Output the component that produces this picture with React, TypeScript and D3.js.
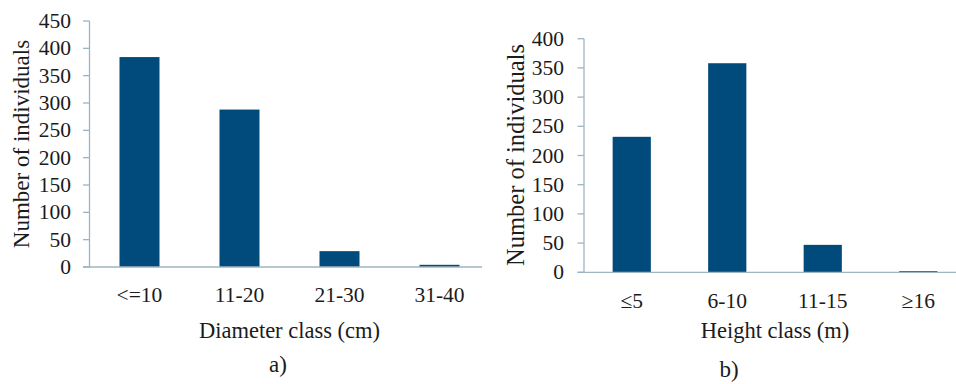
import React from "react";
import * as d3 from "d3";

// Diameter-class distribution (panel a)
const diameterClasses = ["<=10", "11-20", "21-30", "31-40"];
const diameterCounts = [384, 288, 29, 4];
const diameterTicks = [0, 50, 100, 150, 200, 250, 300, 350, 400, 450];

// Height-class distribution (panel b)
const heightClasses = ["≤5", "6-10", "11-15", "≥16"];
const heightCounts = [232, 358, 47, 2];
const heightTicks = [0, 50, 100, 150, 200, 250, 300, 350, 400];

const BAR = "#004b7b";
const AXIS = "#9fb4c1";
const TEXT = "#1b1b1b";
const FONT = '"Liberation Serif", Tinos, "Times New Roman", "DejaVu Serif", serif';

type PanelProps = {
  categories: string[];
  values: number[];
  ticks: number[];
  left: number;
  right: number;
  axisEnd: number;
  bottom: number;
  top: number;
  tickLabelX: number;
  catLabelY: number;
  xTitle: string;
  xTitleY: number;
  yTitleX: number;
  yTitleY: number;
  yTitleSize: number;
  tag: string;
  tagX: number;
  tagY: number;
};

function Panel(p: PanelProps) {
  const x = d3
    .scaleBand<string>()
    .domain(p.categories)
    .range([p.left, p.right])
    .paddingInner(0.6)
    .paddingOuter(0.3);
  const yMax = p.ticks[p.ticks.length - 1];
  const y = d3.scaleLinear().domain([0, yMax]).range([p.bottom, p.top]);
  const mid = (p.left + p.right) / 2;
  const ts = (size: number): React.CSSProperties => ({ fontFamily: FONT, fontSize: size, fill: TEXT });

  return (
    <g>
      {p.values.map((v, i) => (
        <rect
          key={p.categories[i]}
          x={x(p.categories[i])}
          y={y(v)}
          width={x.bandwidth()}
          height={y(0) - y(v)}
          fill={BAR}
        />
      ))}
      <line x1={p.left} x2={p.left} y1={y(yMax)} y2={y(0)} stroke={AXIS} strokeWidth={1.3} />
      <line x1={p.left - 6.5} x2={p.axisEnd} y1={y(0)} y2={y(0)} stroke={AXIS} strokeWidth={1.3} />
      {p.ticks.map((t) => (
        <g key={t}>
          <line x1={p.left - 6.5} x2={p.left} y1={y(t)} y2={y(t)} stroke={AXIS} strokeWidth={1.3} />
          <text x={p.tickLabelX} y={y(t) + 7} textAnchor="end" style={ts(21.5)}>
            {t}
          </text>
        </g>
      ))}
      {p.categories.map((c) => (
        <text key={c} x={(x(c) as number) + x.bandwidth() / 2} y={p.catLabelY} textAnchor="middle" style={ts(21.5)}>
          {c}
        </text>
      ))}
      <text x={mid} y={p.xTitleY} textAnchor="middle" style={ts(22.5)}>
        {p.xTitle}
      </text>
      <text
        transform={`translate(${p.yTitleX},${p.yTitleY}) rotate(-90)`}
        textAnchor="middle"
        style={ts(p.yTitleSize)}
      >
        Number of individuals
      </text>
      <text x={p.tagX} y={p.tagY} textAnchor="middle" style={ts(23)}>
        {p.tag}
      </text>
    </g>
  );
}

export default function App() {
  return (
    <div style={{ position: "absolute", left: 0, top: 0 }}>
      <svg width={956} height={384} viewBox="0 0 956 384" style={{ display: "block", background: "#fff" }}>
        <rect width={956} height={384} fill="#fff" />
        <Panel
          categories={diameterClasses}
          values={diameterCounts}
          ticks={diameterTicks}
          left={89.5}
          right={489.5}
          axisEnd={482}
          bottom={267}
          top={21}
          tickLabelX={71}
          catLabelY={302}
          xTitle="Diameter class (cm)"
          xTitleY={338}
          yTitleX={29}
          yTitleY={144}
          yTitleSize={23}
          tag="a)"
          tagX={278}
          tagY={372}
        />
        <Panel
          categories={heightClasses}
          values={heightCounts}
          ticks={heightTicks}
          left={584}
          right={966}
          axisEnd={956}
          bottom={272.3}
          top={38.7}
          tickLabelX={564}
          catLabelY={308}
          xTitle="Height class (m)"
          xTitleY={338}
          yTitleX={524}
          yTitleY={155}
          yTitleSize={24.5}
          tag="b)"
          tagX={729}
          tagY={377}
        />
      </svg>
    </div>
  );
}
